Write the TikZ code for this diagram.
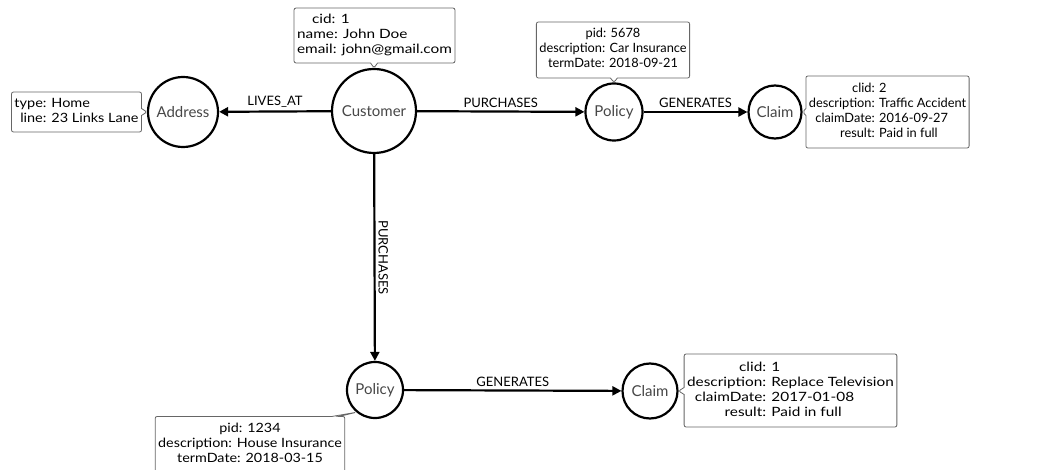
\documentclass[tikz,border=0pt]{standalone}
\usepackage{fontspec}
\setmainfont{Lato}
\usetikzlibrary{arrows.meta,shapes.callouts}
\begin{document}
\begin{tikzpicture}[x=1pt,y=-1pt,
  entity/.style={circle,draw=black,line width=2.2pt,fill=white,inner sep=0pt,
    text=black!72,font=\fontsize{15}{18}\selectfont},
  props/.style={rectangle callout,draw=black!60,line width=0.8pt,rounded corners=2pt,
    fill=white,inner xsep=3pt,inner ysep=2pt,callout pointer width=7pt,
    font=\fontsize{12.8}{15}\selectfont},
  widen/.style={font=\fontsize{12.8}{15}\selectfont\addfontfeatures{FakeStretch=#1}},
  rel/.style={line width=2.2pt,-{Triangle[length=9pt,width=9pt]}},
  rellabel/.style={font=\fontsize{13}{15}\selectfont,inner sep=3pt}
]
\useasboundingbox (0,0) rectangle (1062,470);
\clip (0,0) rectangle (1062,470);

% entities
\node[entity,minimum size=84pt] (cust) at (374,111) {Customer};
\node[entity,minimum size=70pt] (addr) at (183,112) {Address};
\node[entity,minimum size=57pt] (pol1) at (614,112) {Policy};
\node[entity,minimum size=53pt] (clm1) at (775,112) {Claim};
\node[entity,minimum size=56pt] (pol2) at (375,390) {Policy};
\node[entity,minimum size=55pt] (clm2) at (650,391) {Claim};

% relationships
\draw[rel] (cust) -- node[rellabel,above] {LIVES\_AT} (addr);
\draw[rel] (cust) -- node[rellabel,above] {PURCHASES} (pol1);
\draw[rel] (pol1) -- node[rellabel,above] {GENERATES} (clm1);
\draw[rel] (cust) -- node[rellabel,right,rotate=-90,anchor=south] {PURCHASES} (pol2);
\draw[rel] (pol2) -- node[rellabel,above] {GENERATES} (clm2);

% property callouts
\node[props,widen=1.13,minimum height=40pt,callout absolute pointer={(addr.west)}] (addrp) at (76.5,112)
  {\begin{tabular}{@{}r@{ }l@{}}type:&Home\\line:&23 Links Lane\end{tabular}};
\node[props,widen=1.2,minimum height=55pt,callout absolute pointer={(cust.north)}] (custp) at (374.5,35.5)
  {\begin{tabular}{@{}l@{}}\hspace*{15pt}cid: 1\\name: John Doe\\email: john@gmail.com\end{tabular}};
\node[props,minimum height=56pt,callout absolute pointer={(pol1.north)}] (pol1p) at (613,50)
  {\begin{tabular}{@{}c@{}}pid: 5678\\description: Car Insurance\\termDate: 2018-09-21\end{tabular}};
\node[props,minimum height=72pt,callout absolute pointer={(clm1.east)}] (clm1p) at (887.5,112)
  {\begin{tabular}{@{}r@{ }l@{}}clid:&2\\description:&Traffic Accident\\claimDate:&2016-09-27\\result:&Paid in full\end{tabular}};
\node[props,widen=1.12,minimum height=56pt,anchor=north,callout absolute pointer={(pol2.230)}] (pol2p) at (250,416)
  {\begin{tabular}{@{}c@{}}pid: 1234\\description: House Insurance\\termDate: 2018-03-15\end{tabular}};
\node[props,widen=1.2,minimum height=73pt,callout absolute pointer={(clm2.east)}] (clm2p) at (790.5,390.5)
  {\begin{tabular}{@{}r@{ }l@{}}clid:&1\\description:&Replace Television\\claimDate:&2017-01-08\\result:&Paid in full\end{tabular}};
\end{tikzpicture}
\end{document}
